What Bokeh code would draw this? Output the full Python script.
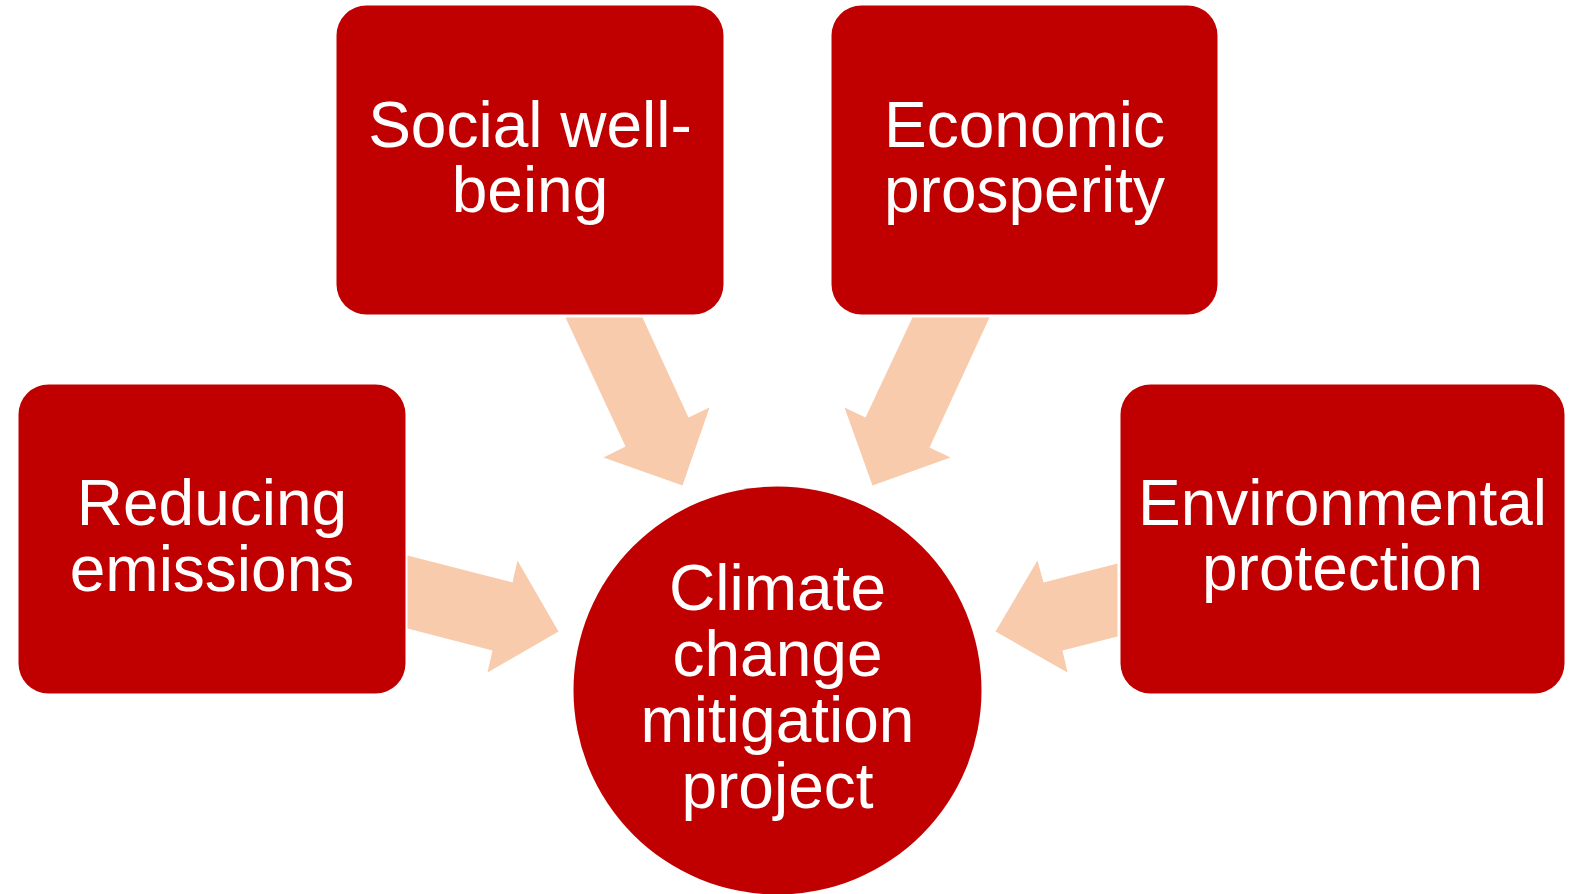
from bokeh.plotting import figure
from bokeh.models import Range1d, ColumnDataSource
from bokeh.core.properties import value
from bokeh.embed import file_html
from bokeh.resources import INLINE

# ---- content ----
box_labels = ["Social well-\nbeing", "Economic\nprosperity", "Reducing\nemissions", "Environmental\nprotection"]
center_label = "Climate\nchange\nmitigation\nproject"

# ---- layout (screen pixel coordinates of the reference) ----
box_left = [336, 831, 18, 1120]
box_right = [723, 1217, 405, 1564]
box_top = [5, 5, 384, 384]
box_bottom = [314, 314, 693, 693]
box_first_baseline = [147, 147, 525.5, 525]
line_step = 65.5

circle_cx, circle_cy, circle_r = 777, 690, 204
circle_first_baseline = 610

arrow_xs = [
    [565, 642, 688, 709, 682, 603, 625],
    [912, 989, 929, 950, 872, 844, 865],
    [407, 512, 517, 558, 487, 492, 407],
    [1117, 1043, 1037, 995, 1067, 1062, 1117],
]
arrow_ys = [
    [317, 317, 417, 407, 485, 457, 446],
    [317, 317, 447, 457, 485, 407, 417],
    [555, 582, 560, 631, 672, 650, 628],
    [563, 582, 560, 631, 672, 650, 636],
]

RED = "#C00000"
PEACH = "#F8CBAD"
W, H = 1574, 894
TEXT_SHIFT = 23  # renderer baseline correction (px)


def fy(py):
    return H - py


p = figure(width=W, height=H, output_backend="svg", toolbar_location=None,
           x_range=Range1d(0, W), y_range=Range1d(0, H), min_border=0)
p.axis.visible = False
p.grid.visible = False
p.outline_line_color = None
p.background_fill_color = "white"
p.border_fill_color = "white"

# arrows
p.patches(xs=arrow_xs, ys=[[fy(v) for v in ys] for ys in arrow_ys],
          fill_color=PEACH, line_color=None)

# boxes
src = ColumnDataSource(dict(left=box_left, right=box_right,
                            top=[fy(v) for v in box_top],
                            bottom=[fy(v) for v in box_bottom]))
p.quad(left="left", right="right", top="top", bottom="bottom", source=src,
       fill_color=RED, line_color=None, border_radius=30)

# circle
p.circle(x=[circle_cx], y=[fy(circle_cy)], radius=circle_r, fill_color=RED, line_color=None)

# texts
tx, ty, tt = [], [], []
for lab, l, r, b0 in zip(box_labels, box_left, box_right, box_first_baseline):
    for i, line in enumerate(lab.split("\n")):
        tx.append((l + r) / 2)
        ty.append(fy(b0 + i * line_step - TEXT_SHIFT))
        tt.append(line)
for i, line in enumerate(center_label.split("\n")):
    tx.append(circle_cx)
    ty.append(fy(circle_first_baseline + i * 66 - TEXT_SHIFT))
    tt.append(line)

p.text(x=tx, y=ty, text=tt, text_color="white", text_font=value("Liberation Sans"),
       text_font_size=value("64px"), text_align="center", text_baseline="alphabetic")

open("out.html", "w").write(file_html(p, INLINE))
